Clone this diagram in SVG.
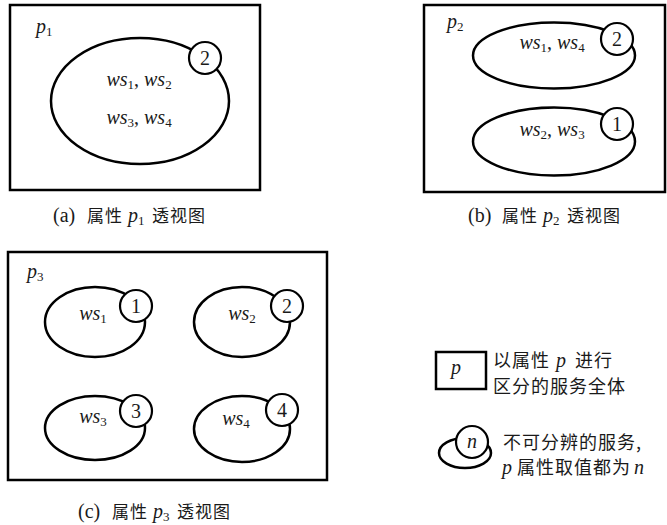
<svg xmlns="http://www.w3.org/2000/svg" width="667" height="525" viewBox="0 0 667 525">
<style>
.frame{fill:#fff;stroke:#000;stroke-width:2.5}
.ell{fill:#fff;stroke:#000;stroke-width:2.5}
.cir{fill:#fff;stroke:#000;stroke-width:2.2}
.t{font-family:'Liberation Serif',serif;font-size:20px;fill:#1a1a1a}
.it{font-style:italic}
.mid{text-anchor:middle}
.sub{font-size:13px;font-style:normal}
.cjk{font-family:'Noto Sans CJK SC',sans-serif;font-size:17px;font-style:normal;letter-spacing:1px;fill:#1a1a1a}
.lg{font-size:18px;letter-spacing:1px}
</style>
<rect width="667" height="525" fill="#fff"/>

<g id="panel-a">
<rect class="frame" x="10" y="5" width="250" height="185"/>
<text x="36" y="33" class="t it">p<tspan class="sub" dy="3">1</tspan></text>
<ellipse class="ell" cx="140" cy="101" rx="89" ry="63"/>
<circle class="cir" cx="205" cy="58" r="16"/>
<text x="205" y="65" class="t mid">2</text>
<text x="139" y="86" class="t mid it">ws<tspan class="sub" dy="3">1</tspan><tspan dy="-3" font-style="normal">, </tspan>ws<tspan class="sub" dy="3">2</tspan></text>
<text x="139" y="124" class="t mid it">ws<tspan class="sub" dy="3">3</tspan><tspan dy="-3" font-style="normal">, </tspan>ws<tspan class="sub" dy="3">4</tspan></text>
</g>
<g id="caption-a">
<text x="53" y="222" class="t">(a)<tspan class="cjk" x="87">属性</tspan><tspan class="it" x="128">p</tspan><tspan class="sub" dy="3">1</tspan><tspan class="cjk" dy="-3" x="152">透视图</tspan></text>
</g>

<g id="panel-b">
<rect class="frame" x="424" y="5" width="241" height="187"/>
<text x="447" y="28" class="t it">p<tspan class="sub" dy="3">2</tspan></text>
<ellipse class="ell" cx="554" cy="55.5" rx="81" ry="33"/>
<circle class="cir" cx="617" cy="39" r="16"/>
<text x="617" y="46" class="t mid">2</text>
<text x="552" y="49" class="t mid it">ws<tspan class="sub" dy="3">1</tspan><tspan dy="-3" font-style="normal">, </tspan>ws<tspan class="sub" dy="3">4</tspan></text>
<ellipse class="ell" cx="554" cy="141.5" rx="81" ry="34"/>
<circle class="cir" cx="617" cy="124" r="16"/>
<text x="617" y="131" class="t mid">1</text>
<text x="552" y="136" class="t mid it">ws<tspan class="sub" dy="3">2</tspan><tspan dy="-3" font-style="normal">, </tspan>ws<tspan class="sub" dy="3">3</tspan></text>
</g>
<g id="caption-b">
<text x="468" y="222" class="t">(b)<tspan class="cjk" x="502">属性</tspan><tspan class="it" x="543">p</tspan><tspan class="sub" dy="3">2</tspan><tspan class="cjk" dy="-3" x="567">透视图</tspan></text>
</g>

<g id="panel-c">
<rect class="frame" x="8" y="252" width="319" height="228"/>
<text x="27" y="278" class="t it">p<tspan class="sub" dy="3">3</tspan></text>
</g>
<g id="ws1">
<ellipse class="ell" cx="95" cy="322" rx="50" ry="35"/>
<circle class="cir" cx="136" cy="306" r="16"/>
<text x="136" y="313" class="t mid">1</text>
<text x="93" y="320" class="t mid it">ws<tspan class="sub" dy="3">1</tspan></text>
</g>
<g id="ws2">
<ellipse class="ell" cx="242" cy="322" rx="48" ry="35"/>
<circle class="cir" cx="287" cy="306" r="16"/>
<text x="287" y="313" class="t mid">2</text>
<text x="242" y="320" class="t mid it">ws<tspan class="sub" dy="3">2</tspan></text>
</g>
<g id="ws3">
<ellipse class="ell" cx="95" cy="428" rx="50" ry="32"/>
<circle class="cir" cx="136" cy="411" r="16"/>
<text x="136" y="418" class="t mid">3</text>
<text x="93" y="423" class="t mid it">ws<tspan class="sub" dy="3">3</tspan></text>
</g>
<g id="ws4">
<ellipse class="ell" cx="242" cy="429" rx="48" ry="33"/>
<circle class="cir" cx="282" cy="410" r="16"/>
<text x="282" y="417" class="t mid">4</text>
<text x="236" y="425" class="t mid it">ws<tspan class="sub" dy="3">4</tspan></text>
</g>
<g id="caption-c">
<text x="78" y="518" class="t">(c)<tspan class="cjk" x="112">属性</tspan><tspan class="it" x="153">p</tspan><tspan class="sub" dy="3">3</tspan><tspan class="cjk" dy="-3" x="177">透视图</tspan></text>
</g>

<g id="legend-p">
<rect class="frame" x="436" y="352" width="50" height="37"/>
<text x="451" y="374" class="t it">p</text>
<text x="493" y="367" class="cjk lg">以属性</text>
<text x="556" y="367" class="t it">p</text>
<text x="575" y="367" class="cjk lg">进行</text>
<text x="493" y="393" class="cjk lg">区分的服务全体</text>
</g>
<g id="legend-n">
<ellipse class="ell" cx="465" cy="453" rx="26" ry="15"/>
<circle class="cir" cx="472" cy="442" r="16"/>
<text x="472" y="448" class="t mid it">n</text>
<text x="503" y="449" class="cjk lg">不可分辨的服务,</text>
<text x="502" y="474" class="t it">p</text>
<text x="517" y="474" class="cjk lg">属性取值都为</text>
<text x="634" y="474" class="t it">n</text>
</g>
</svg>
